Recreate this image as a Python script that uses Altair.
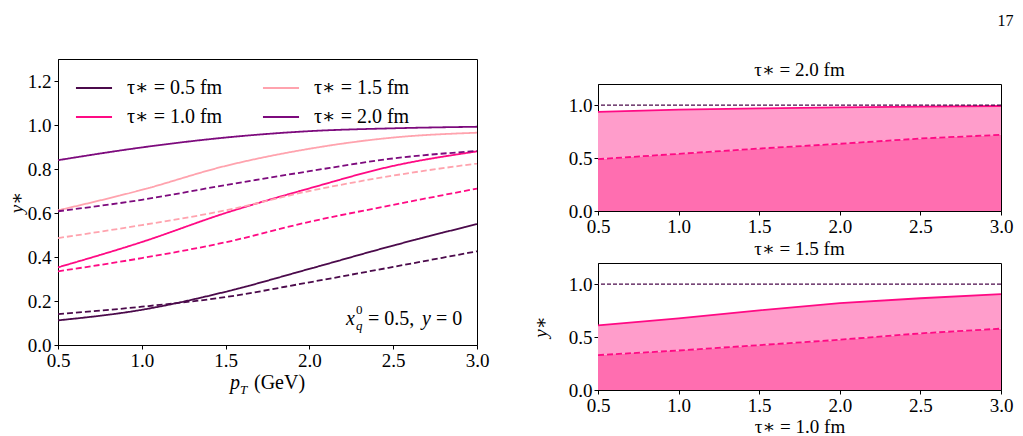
import altair as alt
import pandas as pd

SERIF = "Liberation Serif, DejaVu Serif, serif"

# transverse momentum grid (GeV)
pt = [0.5, 1.0, 1.5, 2.0, 2.5, 3.0]

# left panel: y_* versus p_T for each tau_*
tau_labels = ["τ∗ = 0.5 fm", "τ∗ = 1.0 fm", "τ∗ = 1.5 fm", "τ∗ = 2.0 fm"]
solid_05 = [0.112, 0.160, 0.242, 0.346, 0.452, 0.550]
dashed_05 = [0.140, 0.174, 0.218, 0.285, 0.355, 0.426]
solid_10 = [0.353, 0.468, 0.600, 0.712, 0.814, 0.880]
dashed_10 = [0.335, 0.395, 0.467, 0.560, 0.637, 0.711]
solid_15 = [0.612, 0.705, 0.814, 0.892, 0.943, 0.965]
dashed_15 = [0.486, 0.545, 0.612, 0.700, 0.770, 0.825]
solid_20 = [0.840, 0.898, 0.943, 0.972, 0.985, 0.992]
dashed_20 = [0.608, 0.660, 0.727, 0.790, 0.848, 0.882]

# right panels: bands for tau_* = 2.0 fm (top) and 1.5 fm (bottom)
top_solid = [0.937, 0.957, 0.970, 0.980, 0.987, 0.992]
top_dashed = [0.490, 0.540, 0.590, 0.635, 0.685, 0.720]
bot_solid = [0.610, 0.677, 0.753, 0.820, 0.867, 0.905]
bot_dashed = [0.330, 0.373, 0.424, 0.475, 0.535, 0.580]

DARK = "#4b0a4b"
PINK = "#ff0a84"
LIGHT = "#ffa3ae"
PURPLE = "#7d0a7d"
FILL_DARK = "#ff6eb0"
FILL_LIGHT = "#ff9dcb"

series = {
    (tau_labels[0], "solid"): solid_05, (tau_labels[0], "dashed"): dashed_05,
    (tau_labels[1], "solid"): solid_10, (tau_labels[1], "dashed"): dashed_10,
    (tau_labels[2], "solid"): solid_15, (tau_labels[2], "dashed"): dashed_15,
    (tau_labels[3], "solid"): solid_20, (tau_labels[3], "dashed"): dashed_20,
}
rows = []
for (lab, kind), vals in series.items():
    for p, v in zip(pt, vals):
        rows.append({"pT": p, "y": v, "tau": lab, "kind": kind})
left_df = pd.DataFrame(rows)

W_L, H_L = 419, 286
W_R, H_R = 403, 127

x_left = alt.X("pT:Q", scale=alt.Scale(domain=[0.5, 3.0], nice=False),
               axis=alt.Axis(values=[0.5, 1.0, 1.5, 2.0, 2.5, 3.0], format=".1f",
                             title=None))
y_left = alt.Y("y:Q", scale=alt.Scale(domain=[0, 1.3], nice=False),
               axis=alt.Axis(values=[0, 0.2, 0.4, 0.6, 0.8, 1.0, 1.2], format=".1f",
                             title="y∗", titleFontStyle="italic", titlePadding=1,
                             titleFontSize=19, labelPadding=3))

lines = alt.Chart(left_df).mark_line(strokeWidth=1.8, interpolate="monotone").encode(
    x=x_left,
    y=y_left,
    color=alt.Color("tau:N", scale=alt.Scale(domain=tau_labels,
                                             range=[DARK, PINK, LIGHT, PURPLE]),
                    legend=alt.Legend(title=None, orient="none", legendX=17, legendY=10,
                                      columns=2, symbolType="stroke", symbolSize=1300,
                                      symbolStrokeWidth=1.8, labelFont=SERIF,
                                      labelFontSize=20, labelOffset=14,
                                      columnPadding=36, rowPadding=-10, padding=0,
                                      labelColor="black")),
    strokeDash=alt.StrokeDash("kind:N", scale=alt.Scale(domain=["solid", "dashed"],
                                                        range=[[1, 0], [6, 3]]),
                              legend=None),
)

dummy = pd.DataFrame({"a": [0]})


def label(text, x, y, size=18, style="normal", align="left"):
    return alt.Chart(dummy).mark_text(
        text=text, font=SERIF, fontSize=size, fontStyle=style, align=align,
        baseline="alphabetic", color="black",
    ).encode(x=alt.value(x), y=alt.value(y))


annot = [
    label("x", 288, 266, 20, "italic"),
    label("0", 298, 255, 13),
    label("q", 298, 271, 13, "italic"),
    label("= 0.5,", 310, 266, 20),
    label("y", 364, 266, 20, "italic"),
    label("= 0", 378, 266, 20),
    label("p", 172, 330, 20, "italic"),
    label("T", 182, 335, 13, "italic"),
    label("(GeV)", 196, 330, 20),
]

left = alt.layer(lines, *annot).properties(width=W_L, height=H_L)


def band_panel(solid, dashed, title, xtitle=None, ytitle=None):
    df = pd.DataFrame({"pT": pt, "solid": solid, "dashed": dashed})
    xa = alt.X("pT:Q", scale=alt.Scale(domain=[0.5, 3.0], nice=False),
               axis=alt.Axis(values=[0.5, 1.0, 1.5, 2.0, 2.5, 3.0], format=".1f",
                             title=xtitle, titlePadding=2))
    if ytitle:
        yaxis = alt.Axis(values=[0, 0.5, 1.0], format=".1f", title=ytitle,
                         titleFontStyle="italic", titlePadding=18, titleFontSize=19)
    else:
        yaxis = alt.Axis(values=[0, 0.5, 1.0], format=".1f", title=None)
    ys = alt.Scale(domain=[0, 1.2], nice=False)
    base = alt.Chart(df)
    lower = base.mark_area(color=FILL_DARK, opacity=1).encode(
        x=xa, y=alt.Y("dashed:Q", scale=ys, axis=yaxis))
    upper = base.mark_area(color=FILL_LIGHT, opacity=1).encode(
        x="pT:Q", y="dashed:Q", y2="solid:Q")
    sline = base.mark_line(color=PINK, strokeWidth=1.8).encode(x="pT:Q", y="solid:Q")
    dline = base.mark_line(color=PINK, strokeWidth=1.8, strokeDash=[6, 3]).encode(
        x="pT:Q", y="dashed:Q")
    ref = alt.Chart(dummy).mark_rule(color=DARK, strokeWidth=1.2, strokeDash=[4, 2]).encode(
        y=alt.datum(1.0))
    return alt.layer(lower, upper, sline, dline, ref).properties(
        width=W_R, height=H_R,
        title=alt.TitleParams(title, font=SERIF, fontSize=19, fontWeight="normal",
                              offset=4, color="black"))


top = band_panel(top_solid, top_dashed, "τ∗ = 2.0 fm")
bottom = band_panel(bot_solid, bot_dashed, "τ∗ = 1.5 fm", xtitle="τ∗ = 1.0 fm",
                    ytitle="y∗")

# empty strip above the right column so its panel title starts level with the left plot
spacer = alt.Chart(dummy).mark_rule(opacity=0).encode(
    x=alt.value(0), x2=alt.value(0), y=alt.value(0), y2=alt.value(0)
).properties(width=W_R, height=1, view=alt.ViewBackground(stroke=None))

right = alt.vconcat(spacer, alt.vconcat(top, bottom, spacing=2), spacing=0)

chart = alt.hconcat(left, right, spacing=40).properties(
    title=alt.TitleParams("17", anchor="end", font=SERIF, fontSize=16,
                          fontWeight="normal", offset=30, color="black"),
    padding={"left": 6, "top": 12, "right": 5, "bottom": 0},
    background="white",
).configure_view(
    stroke="black", strokeWidth=1
).configure_axis(
    labelFont=SERIF, labelFontSize=19, labelColor="black",
    titleFont=SERIF, titleFontSize=19, titleFontWeight="normal", titleColor="black",
    tickColor="black", domainColor="black", tickSize=4, labelPadding=2,
    grid=False, labelFlush=False, labelOverlap=False,
)

chart.save("out.html", embed_options={"renderer": "svg", "actions": False})
